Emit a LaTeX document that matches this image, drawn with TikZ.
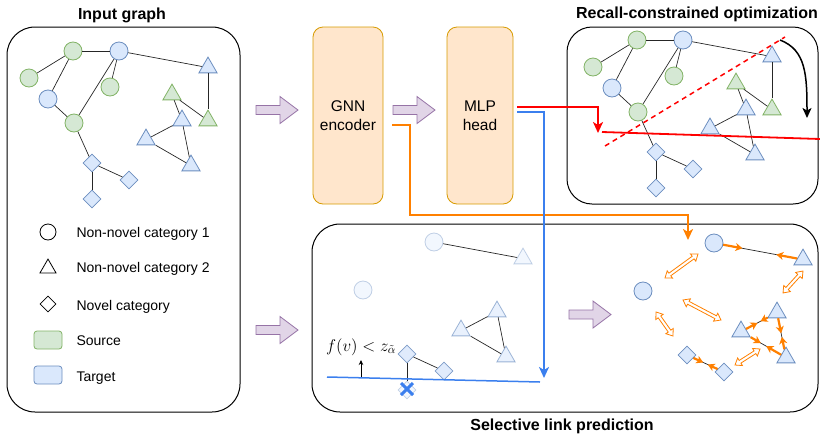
\documentclass[tikz,border=0pt]{standalone}
\usepackage[no-math]{fontspec}
\setmainfont{Liberation Sans}
\usetikzlibrary{shapes.geometric,arrows.meta,calc}
\definecolor{gfill}{HTML}{D5E8D4}
\definecolor{gdraw}{HTML}{82B366}
\definecolor{bfill}{HTML}{DAE8FC}
\definecolor{bdraw}{HTML}{6C8EBF}
\definecolor{ofill}{HTML}{FFE6CC}
\definecolor{odraw}{HTML}{D79B00}
\definecolor{pfill}{HTML}{E1D5E7}
\definecolor{pdraw}{HTML}{9673A6}
\definecolor{flow}{HTML}{FF8000}
\definecolor{bline}{HTML}{3B7FEE}
\definecolor{rline}{HTML}{FF0000}
\tikzset{
  gc/.style={circle, draw=gdraw, fill=gfill, minimum size=18pt, inner sep=0pt, line width=0.8pt},
  bc/.style={circle, draw=bdraw, fill=bfill, minimum size=18pt, inner sep=0pt, line width=0.8pt},
  gt/.style={regular polygon, regular polygon sides=3, draw=gdraw, fill=gfill, minimum size=21pt, inner sep=0pt, yshift=-2.6pt, line width=0.8pt},
  bt/.style={regular polygon, regular polygon sides=3, draw=bdraw, fill=bfill, minimum size=21pt, inner sep=0pt, yshift=-2.6pt, line width=0.8pt},
  bd/.style={diamond, draw=bdraw, fill=bfill, minimum width=18pt, minimum height=18pt, inner sep=0pt, line width=0.8pt},
  gedge/.style={draw=black!85, line width=0.7pt},
  panel/.style={draw=black, line width=1pt, rounded corners=28pt},
  ttl/.style={font=\fontsize{16}{19}\selectfont\bfseries, anchor=base},
  lab/.style={font=\fontsize{14}{17}\selectfont, anchor=base west},
  procbox/.style={draw=odraw, fill=ofill, rounded corners=10pt, line width=0.8pt, minimum width=70pt, minimum height=177pt, align=center, font=\fontsize{15.5}{19}\selectfont},
  faint/.style={fill opacity=0.35, draw opacity=0.4},
  half/.style={fill opacity=0.6, draw opacity=0.65},
  mostly/.style={fill opacity=0.85, draw opacity=0.85},
  thickflow/.style={line width=2.4pt, line join=miter},
  bigtip/.style={-{Stealth[length=11pt,width=10pt,inset=3pt]}},
  oarr/.style={draw=flow, line width=2.2pt, -{Stealth[length=7pt,width=8pt,inset=2pt]}},
  fatarrow/.pic={\draw[draw=pdraw, fill=pfill, line width=0.8pt]
     (0,-4.5) -- (24,-4.5) -- (24,-13.5) -- (42,0) -- (24,13.5) -- (24,4.5) -- (0,4.5) -- cycle;},
  hdarrow/.pic={\draw[draw=flow, fill=white, line width=0.8pt, line join=miter]
     ({-#1/2},0) -- ({-#1/2+6},-4.5) -- ({-#1/2+6},-1.6) -- ({#1/2-6},-1.6) -- ({#1/2-6},-4.5)
     -- ({#1/2},0) -- ({#1/2-6},4.5) -- ({#1/2-6},1.6) -- ({-#1/2+6},1.6) -- ({-#1/2+6},4.5) -- cycle;}
}
\newcommand\mygraph[1]{%
  \node[gc] (#1G1) at (73,51) {};
  \node[bc] (#1B1) at (119,51) {};
  \node[gc] (#1G2) at (29,78) {};
  \node[gc] (#1G3) at (110,87) {};
  \node[bc] (#1B2) at (48,99) {};
  \node[gc] (#1G4) at (74,123) {};
  \node[bt] (#1T1) at (208,65) {};
  \node[gt] (#1T2) at (172,92) {};
  \node[gt] (#1T3) at (208,118) {};
  \node[bt] (#1T4) at (182,118) {};
  \node[bt] (#1T5) at (146,137) {};
  \node[bt] (#1T6) at (191,163) {};
  \node[bd] (#1D1) at (92,163) {};
  \node[bd] (#1D2) at (129,180) {};
  \node[bd] (#1D3) at (92,199) {};
  \draw[gedge] (#1G1) -- (#1B1);
  \draw[gedge] (#1G1) -- (#1G2);
  \draw[gedge] (#1G1) -- (#1B2);
  \draw[gedge] (#1B1) -- (#1G3);
  \draw[gedge] (#1B1) -- (#1G4);
  \draw[gedge] (#1B1) -- (#1T1);
  \draw[gedge] (#1B2) -- (#1G4);
  \draw[gedge] (#1G4) -- (#1D1);
  \draw[gedge] (#1D1) -- (#1D2);
  \draw[gedge] (#1D1) -- (#1D3);
  \draw[gedge] (#1T1) -- (#1T3);
  \draw[gedge] (#1T2) -- (#1T3);
  \draw[gedge] (#1T2) -- (#1T4);
  \draw[gedge] (#1T4) -- (#1T6);
  \draw[gedge] (#1T5) -- (#1T4);
  \draw[gedge] (#1T5) -- (#1T6);
}
\begin{document}
\begin{tikzpicture}[x=1pt,y=-1pt]
\useasboundingbox (0,0) rectangle (820,437);

% ---------- Input graph panel ----------
\node[ttl] (t1) at (122,19) {Input graph};
\draw[panel] (7,27) rectangle (240,412);
\mygraph{L}
% legend
\node[circle, draw, fill=white, minimum size=16pt, inner sep=0pt, line width=0.8pt] (lgc) at (48,232) {};
\node[regular polygon, regular polygon sides=3, draw, fill=white, minimum size=18.5pt, inner sep=0pt, yshift=-2.3pt, line width=0.8pt] (lgt) at (48,266) {};
\node[diamond, draw, fill=white, minimum width=16pt, minimum height=16pt, inner sep=0pt, line width=0.8pt] (lgd) at (48,304) {};
\node[draw=gdraw, fill=gfill, rounded corners=3pt, minimum width=28pt, minimum height=18pt, line width=0.8pt] (lgs) at (48,340) {};
\node[draw=bdraw, fill=bfill, rounded corners=3pt, minimum width=28pt, minimum height=18pt, line width=0.8pt] (lgtg) at (48,375) {};
\node[lab] (l1) at (73,237) {Non-novel category 1};
\node[lab] (l2) at (73,272) {Non-novel category 2};
\node[lab] (l3) at (73,310) {Novel category};
\node[lab] (l4) at (73,345) {Source};
\node[lab] (l5) at (73,381) {Target};

% ---------- big arrows ----------
\pic at (256,110) {fatarrow};
\pic at (393,110) {fatarrow};
\pic at (256,330) {fatarrow};
\pic at (569,314.5) {fatarrow};

% ---------- model boxes ----------
\node[procbox] (gnn) at (348,115.5) {GNN\\encoder};
\node[procbox, minimum width=66pt] (mlp) at (480,115.5) {MLP\\head};

% ---------- Recall-constrained optimization panel ----------
\node[ttl] (t2) at (697,18) {Recall-constrained optimization};
\draw[panel, rounded corners=25pt] (567,27) rectangle (818,204);
\begin{scope}[shift={(564,-11)}]
\mygraph{R}
\end{scope}
\coordinate (rdA) at (605,146);
\coordinate (rdB) at (785,37);
\draw[rline, line width=1.5pt, dash pattern=on 5pt off 4pt] (rdA) -- (rdB);
\coordinate (rsA) at (602,132);
\coordinate (rsB) at (820,139);
\draw[rline, line width=1.8pt] (rsA) -- (rsB);
\coordinate (cvA) at (780,40);
\coordinate (cvB) at (807,118);
\draw[line width=1.5pt, -{Stealth[length=10pt,width=9pt,inset=2.5pt]}] (cvA) .. controls (806,50) and (807,75) .. (cvB);

% ---------- Selective link prediction panel ----------
\draw[panel] (312,224) rectangle (818,412);
\node[ttl] (t3) at (562,430) {Selective link prediction};
\begin{scope}[shift={(315,191)}]
  \node[bc, faint] (SB1) at (119,51) {};
  \node[bt, faint] (ST1) at (208,65) {};
  \node[bc, faint] (SB2) at (48,99) {};
  \node[bt, half] (ST4) at (182,118) {};
  \node[bt, half] (ST5) at (146,137) {};
  \node[bt, half] (ST6) at (191,163) {};
  \node[bd, mostly] (SD1) at (92,163) {};
  \node[bd, mostly] (SD2) at (129,180) {};
  \node[bd, faint] (SD3) at (92,199) {};
\end{scope}
\draw[gedge] (SB1) -- (ST1);
\draw[gedge] (ST5) -- (ST4);
\draw[gedge] (ST5) -- (ST6);
\draw[gedge] (ST4) -- (ST6);
\draw[gedge] (SD1) -- (SD2);
\draw[gedge] (SD1) -- (SD3);
\coordinate (thA) at (327,377);
\coordinate (thB) at (540,382);
\draw[bline, line width=1.5pt] (thA) -- (thB);
\coordinate (upA) at (361,377);
\coordinate (upB) at (361,360);
\draw[line width=0.8pt, -{Stealth[length=5pt,width=4.5pt]}] (upA) -- (upB);
\node[font=\fontsize{14.4}{17}\selectfont, scale=1.18, transform shape] (cond) at (361,347) {$f(v) < z_{\tilde{\alpha}}$};
\coordinate (xm) at (407,389);
\draw[bline, line width=3pt] ($(xm)+(-6,-6)$) -- ($(xm)+(6,6)$);
\draw[bline, line width=3pt] ($(xm)+(-6,6)$) -- ($(xm)+(6,-6)$);

% predicted graph
\begin{scope}[shift={(595,192)}]
  \node[bc] (C1) at (119,51) {};
  \node[bc] (C2) at (48,99) {};
  \node[bt] (TA) at (208,65) {};
  \node[bt] (TB) at (182,118) {};
  \node[bt] (TC) at (146,137) {};
  \node[bt] (TD) at (191,163) {};
  \node[bd] (DA) at (92,163) {};
  \node[bd] (DB) at (129,180) {};
\end{scope}
\draw[gedge] (C1) -- (TA);
\draw[gedge] (TB) -- (TC);
\draw[gedge] (TB) -- (TD);
\draw[gedge] (TC) -- (TD);
\draw[gedge] (DA) -- (DB);
\draw[oarr] (C1) -- ($(C1)!0.32!(TA)$);
\draw[oarr] (TA) -- ($(TA)!0.3!(C1)$);
\draw[oarr] (TB) -- ($(TB)!0.46!(TC)$);
\draw[oarr] (TC) -- ($(TC)!0.46!(TB)$);
\draw[oarr] (TB) -- ($(TB)!0.46!(TD)$);
\draw[oarr] (TD) -- ($(TD)!0.46!(TB)$);
\draw[oarr] (TC) -- ($(TC)!0.44!(TD)$);
\draw[oarr] (TD) -- ($(TD)!0.44!(TC)$);
\draw[oarr] (DA) -- ($(DA)!0.44!(DB)$);
\draw[oarr] (DB) -- ($(DB)!0.44!(DA)$);
% hollow double arrows
\pic[rotate=36] at (681.5,266) {hdarrow=40.8};
\pic[rotate=47.7] at (793,282) {hdarrow=29.7};
\pic[rotate=-27.8] at (702,310) {hdarrow=42.9};
\pic[rotate=-54.7] at (664.5,324) {hdarrow=29.4};
\pic[rotate=32.6] at (747.5,357) {hdarrow=29.7};

% ---------- flow connectors ----------
\coordinate (oS) at ($(gnn.east)+(9,9.5)$);
\coordinate (oTip) at (688,240);
\draw[flow, thickflow, bigtip] (oS) -- (410,125) -- (410,215) -- (688,215) -- (oTip);
\coordinate (bS) at ($(mlp.east)+(4,-3.5)$);
\coordinate (bTip) at (544,378);
\draw[bline, thickflow, bigtip] (bS) -| (bTip);
\coordinate (rS) at ($(mlp.east)+(4,-8.5)$);
\coordinate (rTip) at (598,133);
\draw[rline, thickflow, bigtip] (rS) -| (rTip);
\end{tikzpicture}
\end{document}
